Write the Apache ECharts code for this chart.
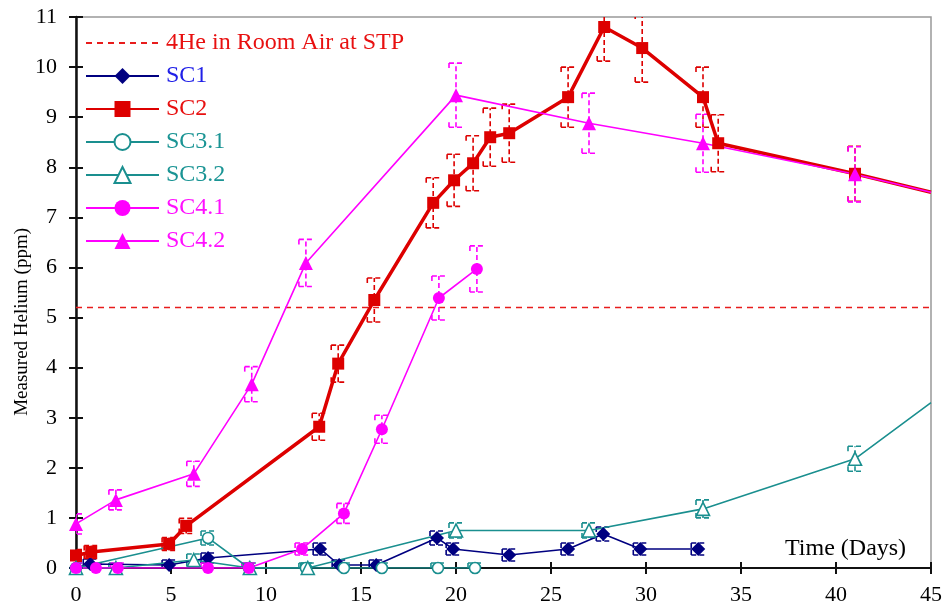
<!DOCTYPE html>
<html>
<head>
<meta charset="utf-8">
<script src="https://cdn.jsdelivr.net/npm/echarts@6/dist/echarts.min.js"></script>
<style>
html,body{margin:0;padding:0;background:#fff;}
#chart{width:945px;height:610px;}
</style>
</head>
<body>
<div id="chart"></div>
<script>
// ---- data ----
const xTicks = [0, 5, 10, 15, 20, 25, 30, 35, 40, 45];
const yTicks = [0, 1, 2, 3, 4, 5, 6, 7, 8, 9, 10, 11];
const airHeX = [0, 45];
const airHeY = [5.2, 5.2];

const sc1X   = [0, 0.75, 4.9, 6.95, 12.85, 13.85, 15.8, 19.0, 19.85, 22.8, 25.9, 27.75, 29.7, 32.75];
const sc1Y   = [0, 0.08, 0.06, 0.2, 0.38, 0.06, 0.06, 0.6, 0.38, 0.26, 0.38, 0.68, 0.38, 0.38];
const sc1Err = [0.1, 0.1, 0.1, 0.1, 0.12, 0.1, 0.1, 0.14, 0.12, 0.12, 0.12, 0.14, 0.12, 0.12];

const sc2X   = [0, 0.8, 4.9, 5.8, 12.8, 13.8, 15.7, 18.8, 19.9, 20.9, 21.8, 22.8, 25.9, 27.8, 29.8, 33.0, 33.8, 41.0, 45];
const sc2Y   = [0.25, 0.32, 0.48, 0.84, 2.82, 4.08, 5.35, 7.29, 7.74, 8.08, 8.6, 8.68, 9.4, 10.8, 10.38, 9.4, 8.48, 7.87, 7.5];
const sc2Err = [0.12, 0.13, 0.13, 0.15, 0.27, 0.37, 0.44, 0.5, 0.52, 0.55, 0.58, 0.58, 0.6, 0.68, 0.68, 0.6, 0.57, 0.55, null];

const sc31X   = [0, 6.95, 9.1, 12.1, 14.1, 16.1, 19.05, 21.0];
const sc31Y   = [0, 0.6, 0, 0, 0, 0, 0, 0];
const sc31Err = [0.1, 0.14, 0.1, 0.1, 0.1, 0.1, 0.1, 0.1];

const sc32X   = [0, 2.1, 6.2, 9.15, 12.2, 20.0, 27.0, 33.0, 41.0, 45];
const sc32Y   = [0, 0, 0.16, 0, 0, 0.75, 0.75, 1.18, 2.18, 3.3];
const sc32Err = [0.1, 0.1, 0.12, 0.1, 0.1, 0.15, 0.15, 0.18, 0.25, null];

const sc41X   = [0, 1.05, 2.2, 6.95, 9.1, 11.9, 14.1, 16.1, 19.1, 21.1];
const sc41Y   = [0, 0, 0, 0, 0, 0.38, 1.09, 2.77, 5.39, 5.97];
const sc41Err = [0.1, 0.1, 0.1, 0.1, 0.1, 0.12, 0.2, 0.28, 0.44, 0.46];

const sc42X   = [0, 2.1, 6.2, 9.25, 12.1, 20.0, 27.0, 33.0, 41.0, 45];
const sc42Y   = [0.88, 1.36, 1.88, 3.67, 6.09, 9.44, 8.88, 8.48, 7.86, 7.5];
const sc42Err = [0.2, 0.2, 0.25, 0.35, 0.47, 0.64, 0.6, 0.58, 0.55, null];

// ---- styles ----
const NAVY = '#000080', RED = '#dd0000', TEAL = '#1a8f8f', MAG = '#ff00ff', AIR = '#e81c1c';
const FONT = '"Liberation Serif", "DejaVu Serif", serif';
const XMAX = 45;

function pts(xs, ys) {
  return xs.map((x, i) => x >= XMAX ? { value: [x, ys[i]], symbol: 'none' } : [x, ys[i]]);
}
function errs(xs, ys, es) {
  const out = [];
  xs.forEach((x, i) => { if (es[i] != null) out.push([x, ys[i] - es[i], ys[i] + es[i]]); });
  return out;
}
function errSeries(name, xs, ys, es, color, z) {
  return {
    type: 'custom', name: name + '_err', xAxisIndex: 0, yAxisIndex: 0, z: z,
    data: errs(xs, ys, es), clip: true, silent: true,
    renderItem: function (params, api) {
      const x = api.value(0);
      const lo = api.coord([x, api.value(1)]);
      const hi = api.coord([x, api.value(2)]);
      const w = 7;
      const st = { stroke: color, lineWidth: 1.6, lineDash: [5, 3], fill: null };
      return {
        type: 'group',
        children: [
          { type: 'line', shape: { x1: lo[0], y1: lo[1], x2: hi[0], y2: hi[1] }, style: st },
          { type: 'line', shape: { x1: hi[0] - w, y1: hi[1], x2: hi[0] + w, y2: hi[1] }, style: st },
          { type: 'line', shape: { x1: lo[0] - w, y1: lo[1], x2: lo[0] + w, y2: lo[1] }, style: st },
          { type: 'line', shape: { x1: hi[0] - w, y1: hi[1], x2: hi[0] - w, y2: hi[1] + 5 }, style: st },
          { type: 'line', shape: { x1: lo[0] - w, y1: lo[1], x2: lo[0] - w, y2: lo[1] - 5 }, style: st }
        ]
      };
    }
  };
}

const chart = echarts.init(document.getElementById('chart'), null, { renderer: 'canvas' });

const axisLabelStyle = { fontFamily: FONT, fontSize: 22, color: '#000' };
const GRID = { left: 76, right: 14, top: 17, bottom: 42 };

const option = {
  animation: false,
  backgroundColor: '#fff',
  grid: [
    Object.assign({ show: true, borderColor: '#999', borderWidth: 1.5, containLabel: false }, GRID),
    Object.assign({ show: false, containLabel: false }, GRID)
  ],
  xAxis: [
    {
      type: 'value', gridIndex: 0, min: 0, max: 45, interval: 5, position: 'bottom',
      axisLine: { show: true, onZero: false, lineStyle: { color: '#111', width: 2 } },
      axisTick: { show: true, inside: false, length: 6, lineStyle: { color: '#111', width: 2 } },
      axisLabel: Object.assign({ margin: 16, formatter: v => xTicks.includes(v) ? String(v) : '' }, axisLabelStyle),
      splitLine: { show: false }
    },
    {
      type: 'value', gridIndex: 1, min: 0, max: 45, interval: 5, position: 'bottom',
      axisLine: { show: false, onZero: false },
      axisTick: { show: true, inside: true, length: 6, lineStyle: { color: '#111', width: 2 } },
      axisLabel: { show: false }, splitLine: { show: false }
    }
  ],
  yAxis: [
    {
      type: 'value', gridIndex: 0, min: 0, max: 11, interval: 1, position: 'left',
      axisLine: { show: true, onZero: false, lineStyle: { color: '#111', width: 2.5 } },
      axisTick: { show: true, inside: false, length: 7, lineStyle: { color: '#111', width: 2 } },
      axisLabel: Object.assign({ margin: 19, formatter: v => yTicks.includes(v) ? String(v) : '' }, axisLabelStyle),
      splitLine: { show: false }
    },
    {
      type: 'value', gridIndex: 1, min: 0, max: 11, interval: 1, position: 'left',
      axisLine: { show: false, onZero: false },
      axisTick: { show: true, inside: true, length: 7, lineStyle: { color: '#111', width: 2 } },
      axisLabel: { show: false }, splitLine: { show: false }
    }
  ],
  legend: {
    orient: 'vertical', left: 80, top: 26,
    itemWidth: 73, itemHeight: 20, itemGap: 9,
    textStyle: { fontFamily: FONT, fontSize: 24, lineHeight: 20, padding: [0, 0, 0, 2] },
    data: [
      { name: '4He in Room Air at STP', textStyle: { color: '#e81010' }, itemStyle: { opacity: 0 } },
      { name: 'SC1', textStyle: { color: '#2020e8' } },
      { name: 'SC2', textStyle: { color: '#e81010' } },
      { name: 'SC3.1', textStyle: { color: '#1a9494' } },
      { name: 'SC3.2', textStyle: { color: '#1a9494' } },
      { name: 'SC4.1', textStyle: { color: '#ff10ff' } },
      { name: 'SC4.2', textStyle: { color: '#ff10ff' } }
    ]
  },
  graphic: [
    {
      type: 'text', left: 13, top: 228, rotation: Math.PI / 2,
      style: { text: 'Measured Helium (ppm)', fontFamily: FONT, fontSize: 19, fill: '#000' }
    },
    {
      type: 'text', left: 785, top: 537,
      style: { text: 'Time (Days)', fontFamily: FONT, fontSize: 24, fill: '#000' }
    }
  ],
  series: [
    {
      name: '4He in Room Air at STP', type: 'line', data: pts(airHeX, airHeY), symbol: 'none', z: 1,
      color: AIR, lineStyle: { color: AIR, width: 1.6, type: [6, 5] }
    },
    errSeries('SC1', sc1X, sc1Y, sc1Err, NAVY, 2),
    {
      name: 'SC1', type: 'line', data: pts(sc1X, sc1Y), symbol: 'diamond', symbolSize: 14, z: 3,
      color: NAVY, lineStyle: { color: NAVY, width: 1.6 }, itemStyle: { color: NAVY }
    },
    errSeries('SC2', sc2X, sc2Y, sc2Err, RED, 2),
    {
      name: 'SC2', type: 'line', data: pts(sc2X, sc2Y), symbol: 'rect', symbolSize: 12, z: 3,
      color: RED, lineStyle: { color: RED, width: 3.5 }, itemStyle: { color: RED }
    },
    errSeries('SC3.1', sc31X, sc31Y, sc31Err, TEAL, 2),
    {
      name: 'SC3.1', type: 'line', data: pts(sc31X, sc31Y), symbol: 'circle', symbolSize: 11, z: 3,
      color: TEAL, lineStyle: { color: TEAL, width: 1.6 },
      itemStyle: { color: '#fff', borderColor: TEAL, borderWidth: 1.6 }
    },
    errSeries('SC3.2', sc32X, sc32Y, sc32Err, TEAL, 2),
    {
      name: 'SC3.2', type: 'line', data: pts(sc32X, sc32Y), symbol: 'triangle', symbolSize: 13, z: 3,
      color: TEAL, lineStyle: { color: TEAL, width: 1.6 },
      itemStyle: { color: '#fff', borderColor: TEAL, borderWidth: 1.6 }
    },
    errSeries('SC4.1', sc41X, sc41Y, sc41Err, MAG, 2),
    {
      name: 'SC4.1', type: 'line', data: pts(sc41X, sc41Y), symbol: 'circle', symbolSize: 12, z: 3,
      color: MAG, lineStyle: { color: MAG, width: 1.6 }, itemStyle: { color: MAG }
    },
    errSeries('SC4.2', sc42X, sc42Y, sc42Err, MAG, 2),
    {
      name: 'SC4.2', type: 'line', data: pts(sc42X, sc42Y), symbol: 'triangle', symbolSize: 14, z: 3,
      color: MAG, lineStyle: { color: MAG, width: 1.6 }, itemStyle: { color: MAG }
    }
  ]
};
chart.setOption(option);
</script>
</body>
</html>
